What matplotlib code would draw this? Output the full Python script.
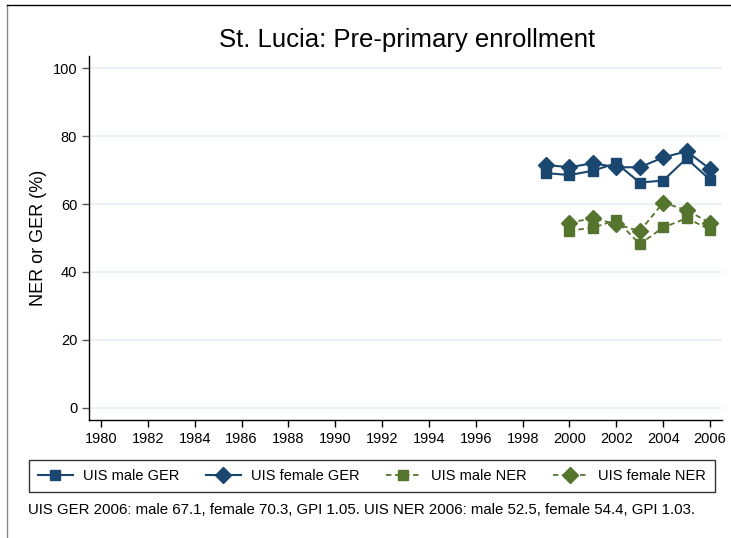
import matplotlib
matplotlib.use("Agg")
import matplotlib.pyplot as plt
from matplotlib.lines import Line2D

plt.rcParams['font.family'] = ['Liberation Sans', 'DejaVu Sans']

years = [1999, 2000, 2001, 2002, 2003, 2004, 2005, 2006]
male_ger = [69.1, 68.5, 69.8, 72.0, 66.3, 66.9, 73.4, 67.1]
female_ger = [71.5, 70.8, 72.0, 70.8, 70.8, 73.7, 75.5, 70.3]
ner_years = [2000, 2001, 2002, 2003, 2004, 2005, 2006]
male_ner = [52.2, 53.0, 55.3, 48.2, 53.1, 55.8, 52.5]
female_ner = [54.5, 55.8, 54.1, 52.0, 60.4, 58.2, 54.4]

xticks = list(range(1980, 2007, 2))
yticks = [0, 20, 40, 60, 80, 100]

navy = '#1a476f'
green = '#55752f'

W, H = 731, 538
fig = plt.figure(figsize=(W/100, H/100), dpi=100)
ax = fig.add_axes([89/W, 1-420/H, (722-89)/W, (420-56)/H])

ax.plot(years, male_ger, color=navy, lw=1.5, marker='s', ms=7, label='UIS male GER')
ax.plot(years, female_ger, color=navy, lw=1.5, marker='D', ms=8, label='UIS female GER')
ax.plot(ner_years, male_ner, color=green, lw=1.3, ls=(0, (3, 2)), marker='s', ms=7, label='UIS male NER')
ax.plot(ner_years, female_ner, color=green, lw=1.3, ls=(0, (3, 2)), marker='D', ms=8, label='UIS female NER')

ax.set_xlim(1979.49, 2006.51)
ax.set_ylim(-3.53, 103.53)
ax.set_xticks(xticks)
ax.set_yticks(yticks)
ax.tick_params(axis='both', direction='out', length=5, width=1, labelsize=10.5, colors='black')
ax.tick_params(axis='y', colors='#555555', labelcolor='black')
ax.set_axisbelow(True)
ax.grid(axis='y', color='#eaf2f3', lw=1.5)
for s in ['top', 'right']:
    ax.spines[s].set_visible(False)
for s in ['left', 'bottom']:
    ax.spines[s].set_linewidth(1)
ax.set_ylabel('NER or GER (%)', fontsize=13)
ax.yaxis.set_label_coords(-0.067, 0.5)

fig.text(407/W, 1-40/H, 'St. Lucia: Pre-primary enrollment', fontsize=18.5, ha='center', va='center')

handles, labels = ax.get_legend_handles_labels()
leg = fig.legend(handles, labels, loc='center', bbox_to_anchor=(372/W, 1-476/H), ncol=4,
                 fontsize=10.5, frameon=True, fancybox=False, edgecolor='black',
                 handlelength=2.4, columnspacing=1.8, borderpad=0.6, handletextpad=0.7)
leg.get_frame().set_linewidth(1)

fig.text(28/W, 1-510/H, 'UIS GER 2006: male 67.1, female 70.3, GPI 1.05. UIS NER 2006: male 52.5, female 54.4, GPI 1.03.',
         fontsize=10.8, ha='left', va='center')

fig.add_artist(Line2D([7/W, 7/W], [0, 1-5/H], transform=fig.transFigure, color='#888888', lw=1))
fig.add_artist(Line2D([7/W, 1], [1-5/H, 1-5/H], transform=fig.transFigure, color='black', lw=1))

fig.savefig('out.png', dpi=100)
